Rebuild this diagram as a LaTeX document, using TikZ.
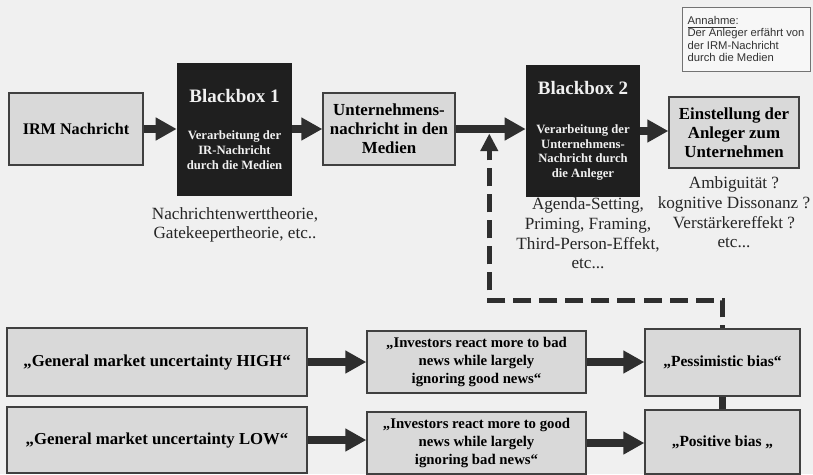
\documentclass[tikz,border=0pt]{standalone}
\usepackage{fontspec}
\setmainfont{Liberation Serif}
\setsansfont{Liberation Sans}
\usetikzlibrary{arrows.meta,calc}

\tikzset{
	graybox/.style={draw=black!75, line width=0.9pt, fill=black!15, align=center, inner sep=2pt, font=\bfseries\fontsize{12}{13.4}\selectfont},
	lowbox/.style={graybox, font=\bfseries\fontsize{10.5}{12.8}\selectfont},
	biasbox/.style={graybox, font=\bfseries\fontsize{11}{13}\selectfont},
	blackbox/.style={fill=black!88, text=black!6, align=center, inner sep=2pt, font=\bfseries\fontsize{9}{10.5}\selectfont},
	infobox/.style={draw=black!55, line width=0.6pt, fill=black!3, align=left, text=black!80, font=\sffamily\fontsize{8}{8.6}\selectfont},
	notetext/.style={align=center, text=black!85, font=\fontsize{12.2}{14}\selectfont},
	bigarrow/.style={line width=5pt, draw=black!82, -{Triangle[length=15pt,width=15.5pt]}},
	bigline/.style={line width=5pt, draw=black!82},
	dasharrow/.style={line width=3.6pt, draw=black!82, dash pattern=on 12.8pt off 5.7pt, dash phase=10.7pt, -{Triangle[length=12.5pt,width=12pt]}},
}

\begin{document}
\begin{tikzpicture}[x=0.025cm, y=-0.025cm]
			\useasboundingbox[fill=black!6] (0,0) rectangle (813,474);
			
			\node[graybox, font=\bfseries\fontsize{11.5}{13}\selectfont, minimum width=3.35cm, minimum height=1.8cm](irm) at (76,129) {IRM Nachricht};
			\node[blackbox, minimum width=2.875cm, minimum height=3.325cm](bb1) at (234.5,129.5) {{\fontsize{13.5}{16}\selectfont Blackbox 1}\\[16pt]Verarbeitung der\\IR-Nachricht\\durch die Medien};
			\node[graybox, minimum width=3.3cm, minimum height=1.8cm](unt) at (389,129) {Unternehmens-\\nachricht in den\\Medien};
			\node[blackbox, minimum width=2.85cm, minimum height=3.3cm](bb2) at (583,131) {{\fontsize{13.5}{16}\selectfont Blackbox 2}\\[17pt]Verarbeitung der\\Unternehmens-\\Nachricht durch\\die Anleger};
			\node[graybox, minimum width=3.25cm, minimum height=1.775cm](einst) at (734,132.5) {Einstellung der\\Anleger zum\\Unternehmen};
			\node[infobox, minimum width=3.2cm, minimum height=1.6cm](annahme) at (746,39) {\underline{Annahme}:\\Der Anleger erfährt von\\der IRM-Nachricht\\durch die Medien};
			
			\node[notetext](theo1) at (235,225) {Nachrichtenwerttheorie,\\Gatekeepertheorie, etc..};
			\node[notetext](theo2) at (588,233.5) {Agenda-Setting,\\Priming, Framing,\\Third-Person-Effekt,\\etc...};
			\node[notetext](theo3) at (734,212.5) {Ambiguität ?\\kognitive Dissonanz ?\\Verstärkereffekt ?\\etc...};
			
			\node[graybox, font=\bfseries\fontsize{11.9}{13}\selectfont, minimum width=7.5cm, minimum height=1.7cm](high) at (157,362) {„General market uncertainty HIGH“};
			\node[graybox, font=\bfseries\fontsize{11.9}{13}\selectfont, minimum width=7.5cm, minimum height=1.65cm](low) at (157,440) {„General market uncertainty LOW“};
			\node[lowbox, minimum width=5.475cm, minimum height=1.55cm](inv1) at (476.5,362) {„Investors react more to bad\\news while largely\\ignoring good news“};
			\node[lowbox, minimum width=5.475cm, minimum height=1.55cm](inv2) at (476.5,443) {„Investors react more to good\\news while largely\\ignoring bad news“};
			\node[biasbox, minimum width=3.875cm, minimum height=1.675cm](pess) at (722.5,362.5) {„Pessimistic bias“};
			\node[biasbox, minimum width=3.875cm, minimum height=1.6cm](pos) at (722.5,442) {„Positive bias „};
			
			\draw[bigarrow](irm.east) -- (irm.east -| bb1.west);
			\draw[bigarrow](bb1.east |- unt.west) -- (unt.west);
			\draw[bigarrow](unt.east) -- (unt.east -| bb2.west);
			\draw[bigarrow](bb2.east) -- (bb2.east -| einst.west);
			
			\draw[bigarrow](high.east) -- (high.east -| inv1.west);
			\draw[bigarrow](inv1.east) -- (inv1.east -| pess.west);
			\draw[bigarrow](low.east) -- (low.east -| inv2.west);
			\draw[bigarrow](inv2.east) -- (inv2.east -| pos.west);
			\draw[bigline](pess.south) -- (pos.north);
			
			\coordinate[](meet) at ($(unt.east)!0.48!(bb2.west)$);
			\draw[dasharrow, shorten >=2.5pt](pess.north) -- ++(0,-28) -| (meet);
\end{tikzpicture}
\end{document}
